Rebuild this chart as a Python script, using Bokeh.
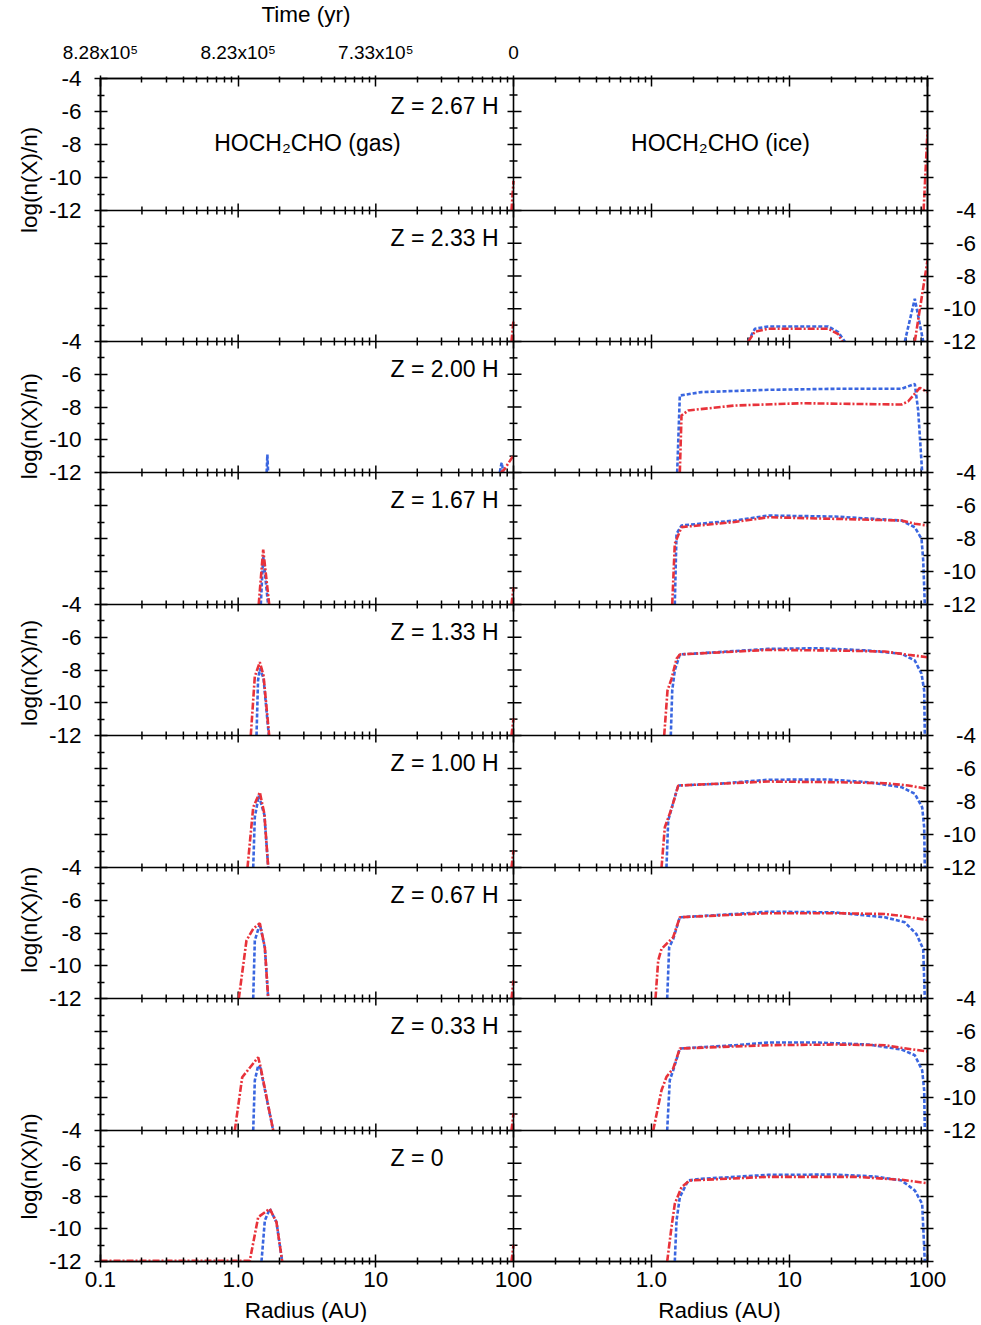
import math
from bokeh.plotting import figure
from bokeh.layouts import column, row
from bokeh.models import FixedTicker, LinearAxis, Label, Range1d, LogScale, Span
from bokeh.core.properties import value
from bokeh.embed import file_html
from bokeh.resources import INLINE

FONT = "Liberation Sans"
BLUE = "#3a66e0"
RED = "#e8323a"

# ---------------- texts / ticks ----------------
Z_LABELS = ["Z = 2.67 H", "Z = 2.33 H", "Z = 2.00 H", "Z = 1.67 H", "Z = 1.33 H",
            "Z = 1.00 H", "Z = 0.67 H", "Z = 0.33 H", "Z = 0"]
TIME_TICKS = [0.1, 1, 10, 100]
TIME_LABELS = ["8.28x10\u2075", "8.23x10\u2075", "7.33x10\u2075", "0"]
R_TICKS = [0.1, 1, 10, 100]
R_LABELS = ["0.1", "1.0", "10", "100"]
Y_TICKS = [-12, -10, -8, -6, -4]
Y_LABELS = ["-12", "-10", "-8", "-6", "-4"]
Y_LABELS_RIGHT = ["-12", "-10", "\u2007-8", "\u2007-6", "\u2007-4"]
TITLES = ["HOCH\u2082CHO (gas)", "HOCH\u2082CHO (ice)"]
X_TITLE = "Radius (AU)"
Y_TITLE = "log(n(X)/n)"
TOP_TITLE = "Time (yr)"

# ---------------- data: segments of (radius [AU], log n(X)/n) ----------------
# gas phase (left column)
gas_blue_z267 = []
gas_red_z267 = [[(96.7, -12), (100, -10.2)]]
gas_blue_z233 = []
gas_red_z233 = [[(96.7, -12), (100, -10.7)]]
gas_blue_z200 = [[(1.61, -12), (1.63, -10.9), (1.65, -12)],
                 [(79.5, -12), (82, -11.4), (84.5, -12)]]
gas_red_z200 = [[(81, -12), (86, -11.8), (100, -10.96)]]
gas_blue_z167 = [[(1.46, -12), (1.52, -9.1), (1.65, -12)]]
gas_red_z167 = [[(1.41, -12), (1.52, -8.67), (1.68, -12)], [(96.7, -12), (100, -10.97)]]
gas_blue_z133 = [[(1.359, -12), (1.394, -8.64), (1.436, -7.91), (1.528, -8.5), (1.67, -12)]]
gas_red_z133 = [[(1.235, -12), (1.321, -8.40), (1.436, -7.52), (1.528, -8.34), (1.68, -12)],
                [(96.7, -12), (100, -10.96)]]
gas_blue_z100 = [[(1.286, -12), (1.321, -8.95), (1.412, -7.64), (1.55, -8.8), (1.653, -12)]]
gas_red_z100 = [[(1.169, -12), (1.286, -8.35), (1.436, -7.44), (1.55, -8.75), (1.653, -12)],
                [(96.7, -12), (100, -10.97)]]
gas_blue_z067 = [[(1.286, -12), (1.321, -8.46), (1.436, -7.45), (1.562, -8.9), (1.653, -12)]]
gas_red_z067 = [[(1.011, -12), (1.149, -8.46), (1.286, -7.74), (1.436, -7.40), (1.562, -8.87),
                 (1.653, -12)], [(96.7, -12), (100, -10.9)]]
gas_blue_z033 = [[(1.286, -12), (1.321, -8.97), (1.398, -8.06), (1.45, -8.2), (1.797, -12)]]
gas_red_z033 = [[(0.945, -12), (1.07, -8.77), (1.398, -7.56), (1.45, -8.1), (1.797, -12)],
                [(96.7, -12), (100, -10.97)]]
gas_blue_z000 = [[(1.477, -12), (1.562, -9.5), (1.697, -8.78), (1.898, -9.6), (2.089, -12)]]
gas_red_z000 = [[(0.1, -11.95), (1.215, -11.95), (1.398, -9.29), (1.697, -8.78), (1.898, -9.6),
                 (2.089, -12)], [(96.7, -12), (100, -11.0)]]

# ice phase (right column)
ice_blue_z267 = []
ice_red_z267 = [[(93.7, -12), (100, -7.2)]]
ice_blue_z233 = [[(5.02, -12), (5.61, -11.22), (7.01, -11.08), (19.08, -11.08), (22.54, -11.43),
                  (25.16, -12)], [(68.5, -12), (80.9, -9.39), (93.1, -12)]]
ice_red_z233 = [[(5.02, -12), (5.61, -11.4), (7.01, -11.22), (19.08, -11.22), (22.54, -11.55),
                 (24.09, -12)], [(80.9, -12), (100, -7.05)]]
ice_blue_z200 = [[(1.535, -12), (1.604, -7.30), (2.303, -7.09), (7.01, -6.95), (21.30, -6.89),
                  (64.8, -6.89), (80.9, -6.59), (85.6, -8.21), (91.5, -12)]]
ice_red_z200 = [[(1.604, -12), (1.65, -8.52), (1.845, -8.21), (4.015, -7.91), (12.22, -7.77),
                 (64.8, -7.85), (72.5, -7.65), (87.9, -6.83), (100, -7.09)]]
ice_blue_z167 = [[(1.475, -12), (1.518, -7.72), (1.65, -7.21), (4.015, -6.91), (7.01, -6.61),
                  (21.30, -6.67), (64.8, -6.91), (80.9, -7.32), (90.5, -8.02), (93.1, -9.33),
                  (95.6, -12)]]
ice_red_z167 = [[(1.413, -12), (1.475, -8.32), (1.65, -7.31), (4.015, -7.0), (7.01, -6.71),
                 (21.30, -6.81), (64.8, -6.91), (80.9, -7.11), (100, -7.21)]]
ice_blue_z133 = [[(1.380, -12), (1.413, -9.25), (1.475, -8.03), (1.604, -7.05), (3.043, -6.91),
                  (7.01, -6.71), (16.14, -6.67), (37.18, -6.81), (64.8, -7.01), (80.9, -7.42),
                  (90.5, -8.23), (94.6, -9.25), (95.6, -12)]]
ice_red_z133 = [[(1.236, -12), (1.306, -9.25), (1.396, -8.54), (1.518, -7.32), (1.604, -7.05),
                 (7.01, -6.77), (21.30, -6.81), (49.0, -6.87), (72.5, -7.07), (100, -7.22)]]
ice_blue_z100 = [[(1.284, -12), (1.321, -9.15), (1.396, -8.44), (1.562, -7.03), (3.043, -6.93),
                  (7.01, -6.68), (19.08, -6.67), (37.18, -6.83), (64.8, -7.13), (80.9, -7.53),
                  (91.5, -8.35), (94.6, -9.56), (95.6, -12)]]
ice_red_z100 = [[(1.182, -12), (1.249, -9.56), (1.396, -8.44), (1.562, -7.03), (7.01, -6.79),
                 (21.30, -6.83), (49.0, -6.89), (72.5, -7.03), (100, -7.23)]]
ice_blue_z067 = [[(1.299, -12), (1.343, -8.87), (1.436, -8.37), (1.604, -7.04), (4.015, -6.84),
                  (7.01, -6.70), (21.30, -6.74), (49.0, -7.04), (68.5, -7.35), (83.2, -8.07),
                  (93.1, -8.98), (95.6, -12)]]
ice_red_z067 = [[(1.069, -12), (1.118, -9.68), (1.182, -8.97), (1.321, -8.56), (1.436, -8.26),
                 (1.604, -7.04), (7.01, -6.79), (21.30, -6.79), (49.0, -6.84), (64.8, -6.96),
                 (100, -7.21)]]
ice_blue_z033 = [[(1.299, -12), (1.357, -8.95), (1.436, -8.35), (1.604, -7.03), (4.015, -6.83),
                  (7.01, -6.67), (16.14, -6.67), (37.18, -6.79), (64.8, -7.09), (80.9, -7.44),
                  (91.5, -8.35), (94.6, -9.56), (95.6, -12)]]
ice_red_z033 = [[(1.029, -12), (1.182, -9.56), (1.284, -8.75), (1.436, -8.24), (1.604, -7.03),
                 (7.01, -6.83), (21.30, -6.79), (49.0, -6.83), (64.8, -6.99), (100, -7.21)]]
ice_blue_z000 = [[(1.475, -12), (1.518, -9.50), (1.604, -8.07), (1.845, -7.05), (2.303, -6.95),
                  (7.01, -6.71), (21.30, -6.69), (41.5, -6.81), (64.8, -7.05), (80.9, -7.66),
                  (91.5, -8.48), (95.6, -12)]]
ice_red_z000 = [[(1.299, -12), (1.396, -9.91), (1.475, -8.48), (1.65, -7.46), (1.895, -7.05),
                 (7.01, -6.83), (30.0, -6.83), (64.8, -7.01), (100, -7.22)]]

GAS_BLUE = [gas_blue_z267, gas_blue_z233, gas_blue_z200, gas_blue_z167, gas_blue_z133,
            gas_blue_z100, gas_blue_z067, gas_blue_z033, gas_blue_z000]
GAS_RED = [gas_red_z267, gas_red_z233, gas_red_z200, gas_red_z167, gas_red_z133,
           gas_red_z100, gas_red_z067, gas_red_z033, gas_red_z000]
ICE_BLUE = [ice_blue_z267, ice_blue_z233, ice_blue_z200, ice_blue_z167, ice_blue_z133,
            ice_blue_z100, ice_blue_z067, ice_blue_z033, ice_blue_z000]
ICE_RED = [ice_red_z267, ice_red_z233, ice_red_z200, ice_red_z167, ice_red_z133,
           ice_red_z100, ice_red_z067, ice_red_z033, ice_red_z000]

# ---------------- layout constants (pixels) ----------------
NROWS = 9
FRAME_H = [132, 131, 131, 132, 131, 132, 131, 132, 131]
COL_W = [413, 414]
FW = sum(COL_W)
FH = sum(FRAME_H)
B_LEFT, B_RIGHT, B_TOP, B_BOTTOM = 54, 55, 42, 36
TOP_STRIP_H = 36
LEFT_STRIP_W = 45
BOTTOM_STRIP_H = 25
PAGE_W = LEFT_STRIP_W + B_LEFT + FW + B_RIGHT
MAIN_H = B_TOP + FH + B_BOTTOM
TICK_FS = "22.5px"
TOP_FS = "19px"
TEXT_FS = "23px"
X_MINOR = [k * 10.0 ** e for e in (-1, 0, 1) for k in range(2, 10)]
Y_MINOR = [-11, -9, -7, -5]

tops = [sum(FRAME_H[:k]) for k in range(NROWS)]          # from frame top
ybot = [FH - tops[k] - FRAME_H[k] for k in range(NROWS)]  # panel bottom, px up from frame bottom
ytop = [FH - tops[k] for k in range(NROWS)]


def ypos(k, v):
    return round(ybot[k] + (v + 12) / 8 * FRAME_H[k], 6)


def xpos(c, r):
    if c == 0:
        return round((math.log10(r) + 1) * COL_W[0] / 3, 6)
    return round(COL_W[0] + (math.log10(r) + 1) * COL_W[1] / 3, 6)


# ---------------- main figure ----------------
p = figure(frame_width=FW, frame_height=FH, x_range=Range1d(0, FW), y_range=Range1d(0, FH),
           min_border_left=B_LEFT, min_border_right=B_RIGHT, min_border_top=B_TOP,
           min_border_bottom=B_BOTTOM, x_axis_location=None, y_axis_location=None,
           output_backend="svg", toolbar_location=None)
p.grid.visible = False
p.outline_line_color = "black"
p.outline_line_width = 1.6
p.background_fill_color = "white"
p.border_fill_color = "white"
p.extra_x_ranges = {"gas": Range1d(0.1, 10 ** (-1 + 3 * FW / COL_W[0])),
                    "ice": Range1d(10 ** (-1 - 3 * COL_W[0] / COL_W[1]), 100)}
p.extra_x_scales = {"gas": LogScale(), "ice": LogScale()}
p.extra_y_ranges = {f"row{k}": Range1d(-12 - 8 * ybot[k] / FRAME_H[k],
                                       -12 + 8 * (FH - ybot[k]) / FRAME_H[k])
                    for k in range(NROWS)}

x_major = sorted({xpos(c, t) for c in (0, 1) for t in R_TICKS})
x_minor = sorted({xpos(c, t) for c in (0, 1) for t in X_MINOR})
y_major = sorted({ypos(k, v) for k in range(NROWS) for v in Y_TICKS})
y_minor = sorted({ypos(k, v) for k in range(NROWS) for v in Y_MINOR})

bottom_labels = {x: "" for x in x_major}
for c in (1, 0):
    for t, lab in zip(R_TICKS, R_LABELS):
        bottom_labels[xpos(c, t)] = lab
top_labels = {x: "" for x in x_major}
for t, lab in zip(TIME_TICKS, TIME_LABELS):
    top_labels[xpos(0, t)] = lab
left_labels = {y: "" for y in y_major}
right_labels = {y: "" for y in y_major}
for k in range(NROWS):
    target, labs = (left_labels, Y_LABELS) if k % 2 == 0 else (right_labels, Y_LABELS_RIGHT)
    for v, lab in zip(Y_TICKS, labs):
        target[ypos(k, v)] = lab


def make_axis(ticks, minor, labels, font_size, tin, tout, min_in, min_out, standoff):
    ax = LinearAxis(ticker=FixedTicker(ticks=ticks, minor_ticks=minor))
    ax.major_label_overrides = labels
    ax.major_label_text_font = FONT
    ax.major_label_text_font_size = font_size
    ax.major_label_text_color = "black"
    ax.major_label_standoff = standoff
    ax.major_tick_in = tin
    ax.major_tick_out = tout
    ax.minor_tick_in = min_in
    ax.minor_tick_out = min_out
    ax.axis_line_color = "black"
    ax.axis_line_width = 1.6
    ax.major_tick_line_color = "black"
    ax.major_tick_line_width = 1.5
    ax.minor_tick_line_color = "black"
    ax.minor_tick_line_width = 1.5
    return ax


p.add_layout(make_axis(x_major, x_minor, bottom_labels, TICK_FS, 7, 6, 4, 3, 4), "below")
p.add_layout(make_axis(x_major, x_minor, top_labels, TOP_FS, 8, 3, 4, 2, 13), "above")
p.add_layout(make_axis(y_major, y_minor, left_labels, TICK_FS, 7, 6, 4, 3, 13), "left")
p.add_layout(make_axis(y_major, y_minor, right_labels, TICK_FS, 7, 6, 4, 3, 10), "right")

# panel separators and their tick marks
seam = COL_W[0]
for k in range(NROWS - 1):
    p.add_layout(Span(location=ybot[k], dimension="width", line_color="black", line_width=1.6))
p.add_layout(Span(location=seam, dimension="height", line_color="black", line_width=1.6))

inner_x_major = [x for x in x_major if 0 < x < FW]
inner_x_minor = [x for x in x_minor if 0 < x < FW]
bounds = [ybot[k] for k in range(NROWS - 1)]
for xs_, half in ((inner_x_major, 7), (inner_x_minor, 4)):
    x0s, y0s, x1s, y1s = [], [], [], []
    for b in bounds:
        for x in xs_:
            x0s.append(x); x1s.append(x); y0s.append(b - half); y1s.append(b + half)
    p.segment(x0s, y0s, x1s, y1s, line_color="black", line_width=1.5)
for ys_, (lft, rgt) in ((y_major, (6, 8)), (y_minor, (4, 4))):
    inner = [y for y in ys_ if 0 < y < FH]
    p.segment([seam - lft] * len(inner), inner, [seam + rgt] * len(inner), inner,
              line_color="black", line_width=1.5)

# data lines
for k in range(NROWS):
    for name, blues, reds in (("gas", GAS_BLUE, GAS_RED), ("ice", ICE_BLUE, ICE_RED)):
        for seg in blues[k]:
            p.line([pt[0] for pt in seg], [pt[1] for pt in seg], x_range_name=name,
                   y_range_name=f"row{k}", line_color=BLUE, line_width=2.6, line_dash="4 2")
        for seg in reds[k]:
            p.line([pt[0] for pt in seg], [pt[1] for pt in seg], x_range_name=name,
                   y_range_name=f"row{k}", line_color=RED, line_width=2.6, line_dash="7 2 2 2")

# panel annotations
for k in range(NROWS):
    p.add_layout(Label(x=290, y=ytop[k] - 27, text=Z_LABELS[k], text_align="left",
                       text_baseline="middle", text_font=FONT, text_font_size=TEXT_FS,
                       text_color="black"))
for c, xc in ((0, 207), (1, 620)):
    p.add_layout(Label(x=xc, y=ytop[0] - 64, text=TITLES[c], text_align="center",
                       text_baseline="middle", text_font=FONT, text_font_size=TEXT_FS,
                       text_color="black"))


# ---------------- text strips around the main figure ----------------
def strip(width, height, y_top, y_bottom):
    s = figure(width=width, height=height, x_range=Range1d(0, width),
               y_range=Range1d(y_bottom, y_top), min_border=0,
               x_axis_location=None, y_axis_location=None,
               output_backend="svg", toolbar_location=None)
    s.grid.visible = False
    s.outline_line_color = None
    s.background_fill_color = "white"
    s.border_fill_color = "white"
    return s


main_y0 = TOP_STRIP_H
bottom_y0 = TOP_STRIP_H + MAIN_H
frame_top_page = main_y0 + B_TOP

top_strip = strip(PAGE_W, TOP_STRIP_H, 0, main_y0)
top_strip.text(x=[LEFT_STRIP_W + B_LEFT + COL_W[0] / 2], y=[14], text=[TOP_TITLE],
               text_align="center", text_baseline="middle", text_font=value(FONT),
               text_font_size=TICK_FS, text_color="black")

left_strip = strip(LEFT_STRIP_W, MAIN_H, main_y0, bottom_y0)
row_centres = [frame_top_page + tops[k] + FRAME_H[k] / 2 for k in range(0, NROWS, 2)]
left_strip.text(x=[29] * len(row_centres), y=row_centres, text=[Y_TITLE] * len(row_centres),
                angle=math.pi / 2, text_align="center", text_baseline="middle",
                text_font=value(FONT), text_font_size=TICK_FS, text_color="black")

bottom_strip = strip(PAGE_W, BOTTOM_STRIP_H, bottom_y0, bottom_y0 + BOTTOM_STRIP_H)
x_left0 = LEFT_STRIP_W + B_LEFT
bottom_strip.text(x=[x_left0 + COL_W[0] / 2, x_left0 + COL_W[0] + COL_W[1] / 2],
                  y=[bottom_y0 + BOTTOM_STRIP_H / 2] * 2,
                  text=[X_TITLE] * 2, text_align="center", text_baseline="middle",
                  text_font=value(FONT), text_font_size=TICK_FS, text_color="black")

layout = column([top_strip, row([left_strip, p], spacing=0), bottom_strip], spacing=0)

open("out.html", "w").write(file_html(layout, INLINE))
